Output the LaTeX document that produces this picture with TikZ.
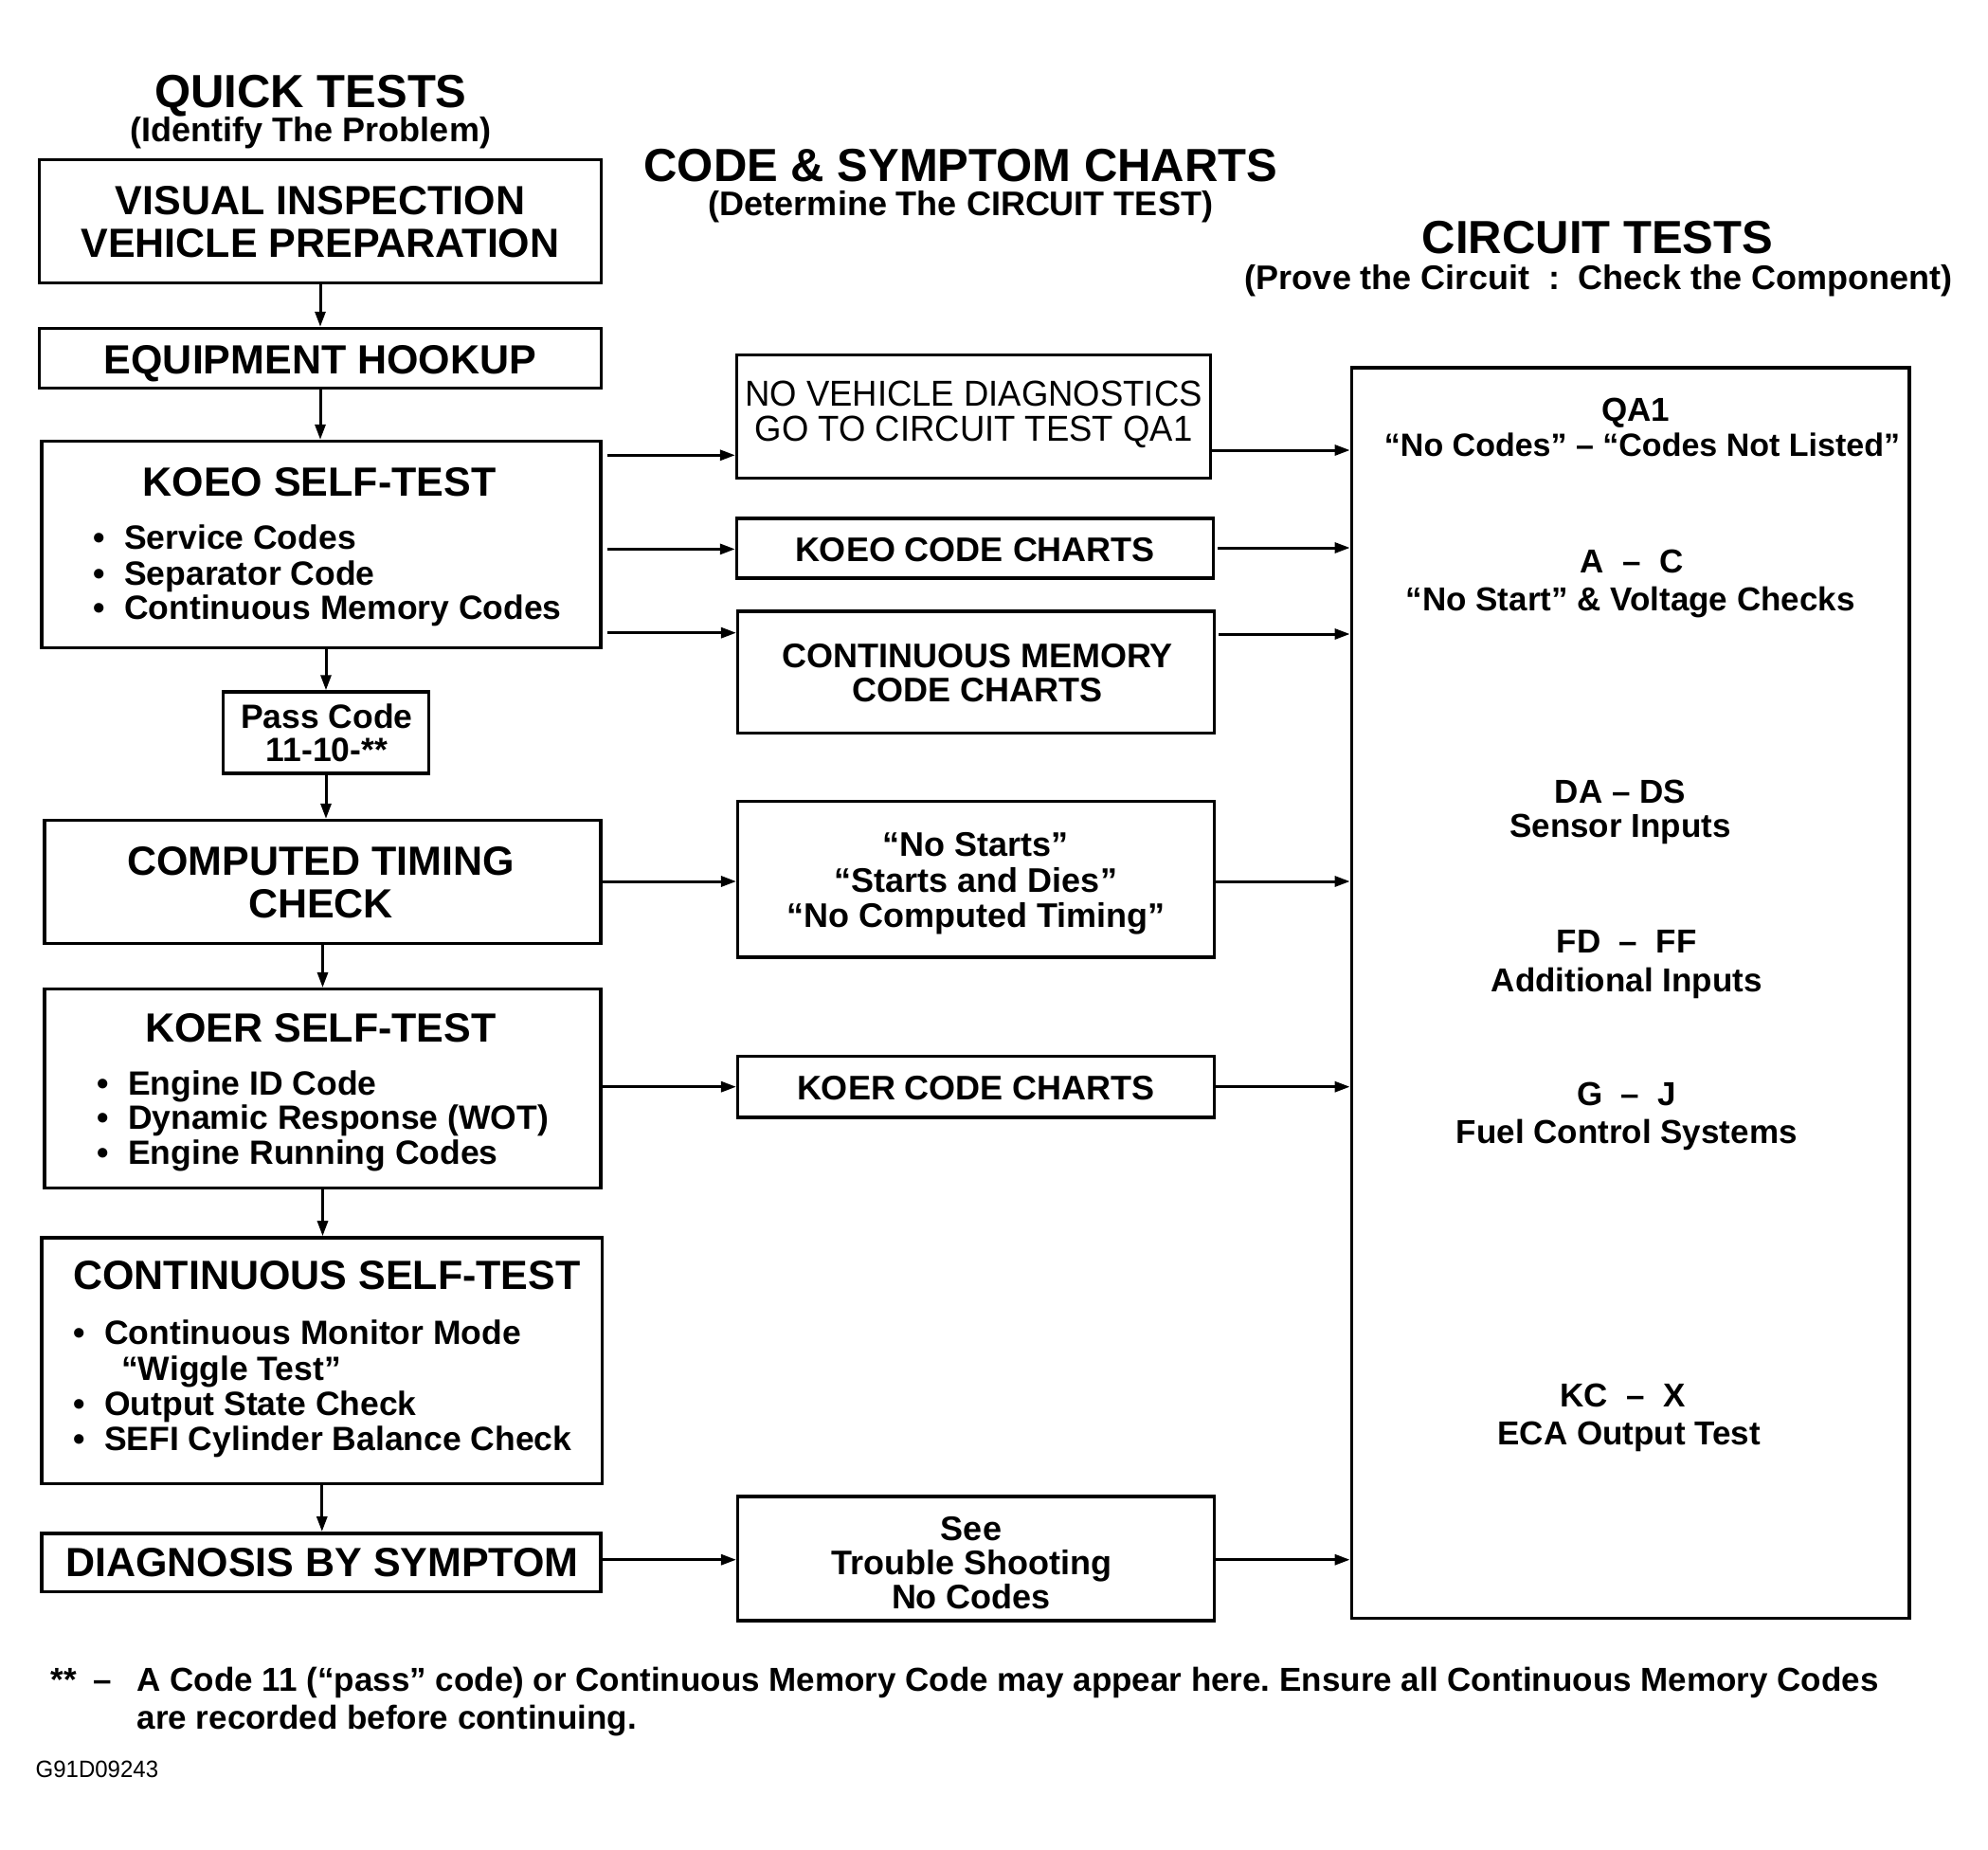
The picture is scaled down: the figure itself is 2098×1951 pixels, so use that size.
\documentclass[tikz,border=0pt]{standalone}
\usepackage{fontspec}
\setmainfont{Liberation Sans}
\newfontfamily\condfont{Liberation Sans}[FakeStretch=0.96]
\usetikzlibrary{arrows.meta}
\frenchspacing
\newcommand{\fsz}[1]{\fontsize{#1}{#1}\selectfont}
\newcommand{\tline}[5]{\node[tt, font=\bfseries\fsz{#4}] (#1) at (#2,{#3+0.36*#4}) {#5};}
\newcommand{\bline}[5]{\node[tt, anchor=base west, font=\bfseries\fsz{#4}] (#1) at (#2,{#3+0.36*#4}) {#5};}
\newcommand{\bul}{\makebox[33pt][l]{\textbullet}}
\begin{document}
\begin{tikzpicture}[x=1pt,y=-1pt,
  box/.style={draw, line width=3.5pt, rectangle, inner sep=0pt},
  arr/.style={-{Triangle[length=16pt,width=11pt]}, line width=3pt},
  tt/.style={inner sep=0pt, anchor=base}]
\path[use as bounding box, fill=white] (0,0) rectangle (2098,1951);

% headings
\tline{h1}{328}{96}{49}{QUICK TESTS}
\tline{h1s}{328}{136.5}{36}{(Identify The Problem)}
\tline{h2}{1014}{174}{49}{CODE \& SYMPTOM CHARTS}
\tline{h2s}{1014}{215}{36}{(Determine The CIRCUIT TEST)}
\tline{h3}{1686}{250}{49}{CIRCUIT TESTS}
\tline{h3s}{1687}{293}{36}{(Prove the Circuit\ \ :\ \ Check the Component)}

% left column boxes
\node[box, minimum width=593pt, minimum height=130pt] (vis) at (338,233.5) {};
\node[box, minimum width=593pt, minimum height=63pt] (equip) at (338,378) {};
\node[box, minimum width=590pt, minimum height=218pt] (koeo) at (339,574.6) {};
\node[box, minimum width=217pt, minimum height=86pt] (pass) at (344,773) {};
\node[box, minimum width=587pt, minimum height=130pt] (comp) at (340.5,930.6) {};
\node[box, minimum width=587pt, minimum height=210pt] (koer) at (340.5,1148.7) {};
\node[box, minimum width=591.5pt, minimum height=259.5pt] (cont) at (339.8,1435.7) {};
\node[box, minimum width=590pt, minimum height=61.5pt] (diag) at (339,1648.5) {};

\tline{vis1}{338}{211}{43}{VISUAL INSPECTION}
\tline{vis2}{338}{256}{43}{VEHICLE PREPARATION}
\tline{eqt}{338}{379}{43}{EQUIPMENT HOOKUP}
\tline{koeot}{337}{508.5}{43}{KOEO SELF-TEST}
\bline{kb1}{98}{567}{35.5}{\bul Service Codes}
\bline{kb2}{98}{605}{35.5}{\bul Separator Code}
\bline{kb3}{98}{641}{35.5}{\bul Continuous Memory Codes}
\tline{pass1}{345}{756}{35.5}{Pass Code}
\tline{pass2}{345}{791}{35.5}{11-10-**}
\tline{comp1}{338.5}{908.5}{43}{COMPUTED TIMING}
\tline{comp2}{338.5}{952.6}{43}{CHECK}
\tline{koert}{338.5}{1084}{43}{KOER SELF-TEST}
\bline{rb1}{102}{1142.7}{35.5}{\bul Engine ID Code}
\bline{rb2}{102}{1178.8}{35.5}{\bul Dynamic Response (WOT)}
\bline{rb3}{102}{1216.2}{35.5}{\bul Engine Running Codes}
\tline{contt}{345}{1344.7}{43}{CONTINUOUS SELF-TEST}
\bline{cb1}{77}{1406}{35.5}{\bul Continuous Monitor Mode}
\bline{cb2}{128}{1443.7}{35.5}{``Wiggle Test''}
\bline{cb3}{77}{1481}{35.5}{\bul Output State Check}
\bline{cb4}{77}{1517.3}{35.5}{\bul SEFI Cylinder Balance Check}
\tline{diagt}{340}{1648}{43}{DIAGNOSIS BY SYMPTOM}

% middle boxes
\node[box, minimum width=500pt, minimum height=130pt] (nvd) at (1027.6,439.5) {};
\node[box, minimum width=503pt, minimum height=63pt] (kcc) at (1029,578.7) {};
\node[box, minimum width=503pt, minimum height=128.4pt] (cmc) at (1030.2,709.2) {};
\node[box, minimum width=503pt, minimum height=164.6pt] (nst) at (1030.2,927.9) {};
\node[box, minimum width=503pt, minimum height=64.3pt] (kercc) at (1030.2,1146.7) {};
\node[box, minimum width=503pt, minimum height=131.2pt] (see) at (1030.2,1644.4) {};

\node[tt, font=\condfont\fsz{38}] (nvd1) at (1027.6,{414.8+13.7}) {NO VEHICLE DIAGNOSTICS};
\node[tt, font=\condfont\fsz{38}] (nvd2) at (1027.6,{452.2+13.7}) {GO TO CIRCUIT TEST QA1};
\tline{kcct}{1029}{579.4}{36}{KOEO CODE CHARTS}
\tline{cmc1}{1031.6}{691.7}{36}{CONTINUOUS MEMORY}
\tline{cmc2}{1031.6}{727.9}{36}{CODE CHARTS}
\tline{nst1}{1030}{891}{36}{``No Starts''}
\tline{nst2}{1030}{928.6}{36}{``Starts and Dies''}
\tline{nst3}{1030}{966}{36}{``No Computed Timing''}
\tline{kercct}{1030}{1148}{36}{KOER CODE CHARTS}
\tline{see1}{1025}{1612.3}{36}{See}
\tline{see2}{1025}{1648.4}{36}{Trouble Shooting}
\tline{see3}{1025}{1684.5}{36}{No Codes}

% right box
\node[box, minimum width=588.7pt, minimum height=1319.3pt] (ct) at (1720.7,1047.7) {};
\tline{r1}{1726}{432}{35}{QA1}
\tline{r2}{1733}{469.6}{34}{``No Codes'' -- ``Codes Not Listed''}
\tline{r3}{1722}{591.4}{35}{A\ \ --\ \ C}
\tline{r4}{1720.7}{631.5}{35}{``No Start'' \& Voltage Checks}
\tline{r5}{1710}{835}{35}{DA -- DS}
\tline{r6}{1710}{871}{35}{Sensor Inputs}
\tline{r7}{1716.7}{992.8}{35}{FD\ \ --\ \ FF}
\tline{r8}{1716.7}{1034.3}{35}{Additional Inputs}
\tline{r9}{1716.7}{1153.4}{35}{G\ \ --\ \ J}
\tline{r10}{1716.7}{1193.5}{35}{Fuel Control Systems}
\tline{r11}{1712.6}{1471.8}{35}{KC\ \ --\ \ X}
\tline{r12}{1719.3}{1512}{35}{ECA Output Test}

% vertical arrows
\draw[arr] (vis.south) -- (vis.south |- equip.north);
\draw[arr] (equip.south) -- (equip.south |- koeo.north);
\draw[arr] (koeo.south -| pass.north) -- (pass.north);
\draw[arr] (pass.south) -- (pass.south |- comp.north);
\draw[arr] (comp.south) -- (comp.south |- koer.north);
\draw[arr] (koer.south) -- (koer.south |- cont.north);
\draw[arr] (cont.south) -- (cont.south |- diag.north);

% horizontal arrows
\coordinate (ya) at (0,480.3);
\coordinate (yb) at (0,579.4);
\coordinate (yc) at (0,667.7);
\coordinate (yd) at (0,475);
\coordinate (ye) at (0,578);
\coordinate (yf) at (0,669);
\coordinate (yg) at (0,930);
\coordinate (yh) at (0,1146.7);
\coordinate (yi) at (0,1645.7);
\draw[arr, shorten <=5pt] (koeo.east |- ya) -- (nvd.west |- ya);
\draw[arr, shorten <=5pt] (koeo.east |- yb) -- (kcc.west |- yb);
\draw[arr, shorten <=5pt] (koeo.east |- yc) -- (cmc.west |- yc);
\draw[arr] (comp.east |- yg) -- (nst.west |- yg);
\draw[arr] (koer.east |- yh) -- (kercc.west |- yh);
\draw[arr] (diag.east |- yi) -- (see.west |- yi);
\draw[arr] (nvd.east |- yd) -- (ct.west |- yd);
\draw[arr, shorten <=3pt] (kcc.east |- ye) -- (ct.west |- ye);
\draw[arr, shorten <=3pt] (cmc.east |- yf) -- (ct.west |- yf);
\draw[arr] (nst.east |- yg) -- (ct.west |- yg);
\draw[arr] (kercc.east |- yh) -- (ct.west |- yh);
\draw[arr] (see.east |- yi) -- (ct.west |- yi);

% footnote
\bline{fa}{53.5}{1771.5}{35}{**}
\bline{fb}{98}{1771.5}{35}{--}
\bline{fc}{144.5}{1771.5}{35}{A Code 11 (``pass'' code) or Continuous Memory Code may appear here. Ensure all Continuous Memory Codes}
\bline{fd}{144.5}{1811.7}{35}{are recorded before continuing.}
\node[tt, anchor=base west, font=\condfont\fsz{25}] (gid) at (37.5,1875.5) {G91D09243};
\end{tikzpicture}
\end{document}
